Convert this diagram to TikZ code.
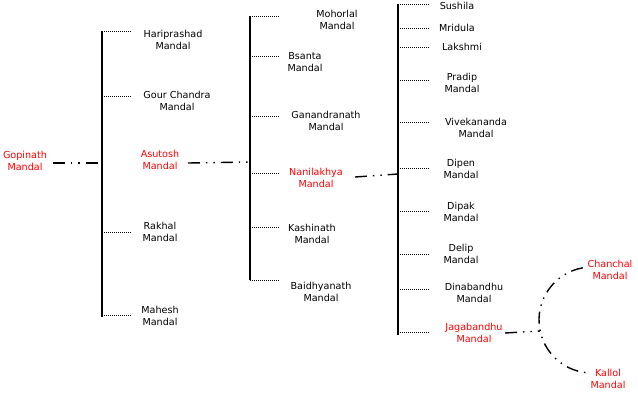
\documentclass[tikz,border=0pt]{standalone}
\usepackage{fontspec}
\setmainfont{DejaVu Sans}
\definecolor{kinred}{HTML}{FF0000}
\begin{document}
\begin{tikzpicture}[x=1pt,y=-1pt,
    kin/.style={font=\fontsize{9.6}{12.5}\selectfont,align=center,inner sep=0pt},
    heir/.style={kin,text=kinred},
    trunk/.style={line width=1.3pt},
    twig/.style={line width=1pt,dash pattern=on 1pt off 1pt},
    lineage/.style={line width=1.4pt,dash pattern=on 12pt off 6pt on 1.4pt off 6pt on 1.4pt off 6pt}]
  \useasboundingbox (0,0) rectangle (638,400);
  % generation 1
  \node[heir] (gopinath) at (25,161) {Gopinath\\Mandal};
  \coordinate (t1) at (102,31); \coordinate (b1) at (102,317);
  \draw[trunk] (t1) -- (b1);
  \coordinate (j1) at (102,163);
  \draw[lineage] (53,163) coordinate (g0) (g0) -- (j1);
  % children of Gopinath
  \node[kin] (hari) at (173,40) {Hariprashad\\Mandal};
  \node[kin] (gour) at (177,101) {Gour Chandra\\Mandal};
  \node[heir] (asutosh) at (160,160) {Asutosh\\Mandal};
  \node[kin] (rakhal) at (160,232) {Rakhal\\Mandal};
  \node[kin] (mahesh) at (160,316) {Mahesh\\Mandal};
  \foreach \y in {31,96,232,315}{
    \draw[twig] (102,\y) -- (132,\y);}
  % generation 3
  \coordinate (j2) at (250,162);
  \draw[trunk] (250,16) -- (250,280);
  \draw[lineage] (188,163) coordinate (a0) (a0) -- (j2);
  \node[kin] (mohor) at (337,20) {Mohorlal\\Mandal};
  \node[kin] (bsanta) at (305,62) {Bsanta\\Mandal};
  \node[kin] (ganan) at (326,121) {Ganandranath\\Mandal};
  \node[heir] (nani) at (316,178) {Nanilakhya\\Mandal};
  \node[kin] (kashi) at (312,234) {Kashinath\\Mandal};
  \node[kin] (baidhya) at (321,292) {Baidhyanath\\Mandal};
  \foreach \y in {16,56,116,173,227,280}{
    \draw[twig] (250,\y) -- (280,\y);}
  % generation 4
  \coordinate (j3) at (398,174);
  \draw[trunk] (398,4) -- (398,335);
  \draw[lineage] (355,177) coordinate (n0) (n0) -- (j3);
  \node[kin] (sushila) at (457,6) {Sushila};
  \node[kin] (mridula) at (457,28) {Mridula};
  \node[kin] (lakshmi) at (462,47) {Lakshmi};
  \node[kin] (pradip) at (462,83) {Pradip\\Mandal};
  \node[kin] (viveka) at (476,128) {Vivekananda\\Mandal};
  \node[kin] (dipen) at (461,169) {Dipen\\Mandal};
  \node[kin] (dipak) at (461,212) {Dipak\\Mandal};
  \node[kin] (delip) at (461,254) {Delip\\Mandal};
  \node[kin] (dina) at (474,293) {Dinabandhu\\Mandal};
  \node[heir] (jaga) at (474,333) {Jagabandhu\\Mandal};
  \foreach \y in {4,28,47,80,122,168,211,254,289,332}{
    \draw[twig] (398,\y) -- (430,\y);}
  % generation 5
  \node[heir] (chanchal) at (610,270) {Chanchal\\Mandal};
  \node[heir] (kallol) at (608,379) {Kallol\\Mandal};
  \coordinate (j4) at (540,331);
  \draw[lineage] (505,333) coordinate (jg0) (jg0) -- (j4);
  \coordinate (hub) at (592,320);
  \draw[lineage] ([shift=(260:53)]hub) arc[start angle=260,end angle=97,radius=53];
\end{tikzpicture}
\end{document}
